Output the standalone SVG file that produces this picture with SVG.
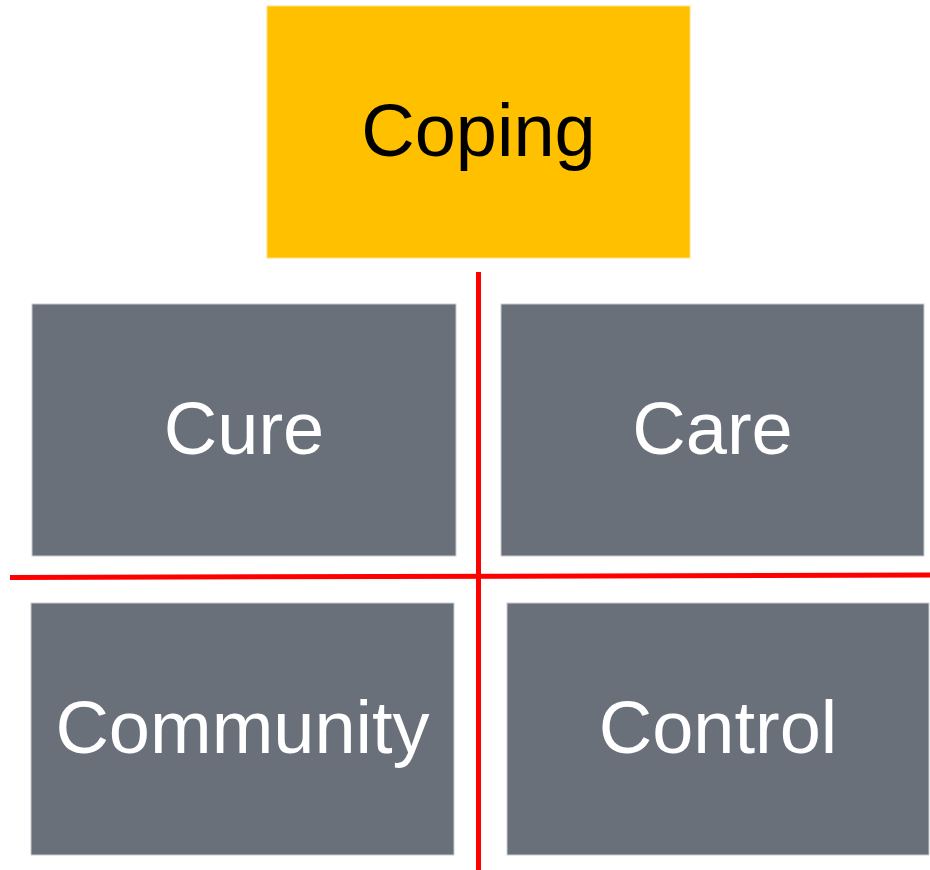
<svg xmlns="http://www.w3.org/2000/svg" width="930" height="870" viewBox="0 0 930 870">
<style>
.box{fill:#69707A;stroke:#C9CCD0;stroke-width:1}
.top{fill:#FFC000;stroke:#FFE080;stroke-width:1}
.t{font-family:"Liberation Sans",Arial,sans-serif;font-size:74px;text-anchor:middle;fill:#FFFFFF}
.tk{fill:#000000}
.ln{stroke:#FF0000;stroke-width:5;fill:none}
</style>
<rect width="930" height="870" fill="#FFFFFF"/>
<g id="coping"><rect class="top" x="267" y="6" width="423" height="252"/><text class="t tk" x="478.5" y="156">Coping</text></g>
<g id="cure"><rect class="box" x="32" y="304" width="424" height="252"/><text class="t" x="244" y="454">Cure</text></g>
<g id="care"><rect class="box" x="501" y="304" width="423" height="252"/><text class="t" x="712.5" y="454">Care</text></g>
<g id="community"><rect class="box" x="31" y="603" width="423" height="252"/><text class="t" x="242.5" y="753">Community</text></g>
<g id="control"><rect class="box" x="507" y="603" width="422" height="252"/><text class="t" x="718" y="753">Control</text></g>
<g id="connectors">
<line class="ln" x1="478.5" y1="272" x2="478.5" y2="870"/>
<line class="ln" x1="10" y1="577.5" x2="930" y2="575"/>
</g>
</svg>
